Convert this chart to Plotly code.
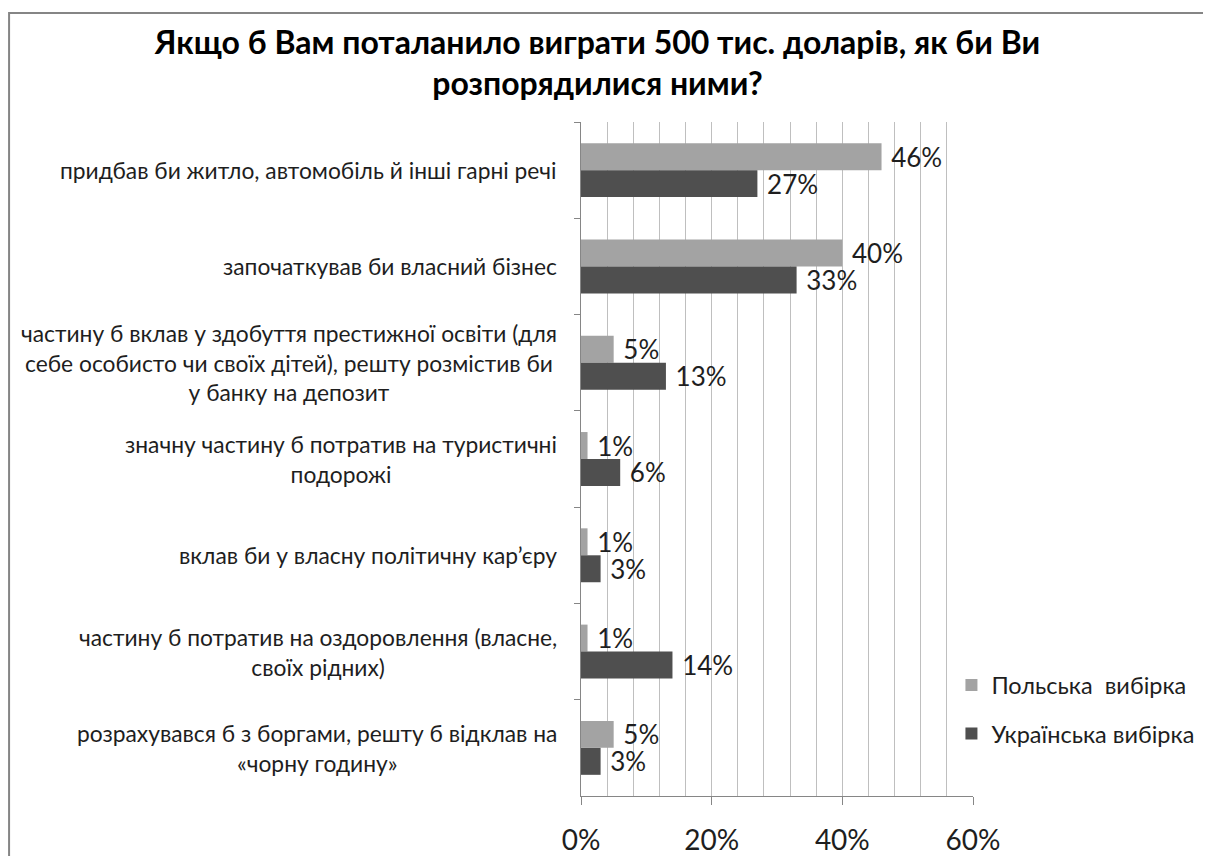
import plotly.graph_objects as go

# categories, top to bottom
categories = [
    "придбав би житло, автомобіль й інші гарні речі",
    "започаткував би власний бізнес",
    "частину б вклав у здобуття престижної освіти (для<br>себе особисто чи своїх дітей), решту розмістив би<br>у банку на депозит",
    "значну частину б потратив на туристичні<br>подорожі",
    "вклав би у власну політичну кар’єру",
    "частину б потратив на оздоровлення (власне,<br>своїх рідних)",
    "розрахувався б з боргами, решту б відклав на<br>«чорну годину»",
]
polish = [0.46, 0.40, 0.05, 0.01, 0.01, 0.01, 0.05]
ukrainian = [0.27, 0.33, 0.13, 0.06, 0.03, 0.14, 0.03]

series_names = ["Польська  вибірка", "Українська вибірка"]
x_ticks = [0, 0.2, 0.4, 0.6]
x_tick_labels = ["0%", "20%", "40%", "60%"]

FONT = "Lato, 'Open Sans', sans-serif"
TEXT_COLOR = '#1e1e1e'

fig = go.Figure()

# Polish sample (light grey)
fig.add_trace(go.Bar(
    y=categories,
    x=polish,
    orientation='h',
    name=series_names[0],
    legendgroup='pl',
    marker=dict(color='#a3a3a3', line=dict(width=0)),
    texttemplate='\u00a0%{x:.0%}',
    textposition='outside',
    constraintext='none',
    textfont=dict(size=26, color=TEXT_COLOR, family=FONT),
    cliponaxis=False,
))

# Ukrainian sample (dark grey)
fig.add_trace(go.Bar(
    y=categories,
    x=ukrainian,
    orientation='h',
    name=series_names[1],
    legendgroup='ua',
    marker=dict(color='#4f4f4f', line=dict(width=0)),
    texttemplate='\u00a0%{x:.0%}',
    textposition='outside',
    constraintext='none',
    textfont=dict(size=26, color=TEXT_COLOR, family=FONT),
    cliponaxis=False,
))

# category labels, centred multi-line blocks left of the axis
for cat in categories:
    fig.add_annotation(
        x=0, xref='paper', y=cat, yref='y',
        text=cat, showarrow=False,
        xanchor='right', yanchor='middle', align='center',
        xshift=-22,
        font=dict(size=22.8, color=TEXT_COLOR, family=FONT),
    )

# outer frame of the chart
fig.add_shape(
    type='rect', xref='paper', yref='paper',
    x0=-1.459, x1=1.8, y0=-0.2, y1=1.1617,
    line=dict(color='#858585', width=2),
    layer='below',
)

fig.update_layout(
    width=1203,
    height=848,
    barmode='group',
    bargap=0.44,
    bargroupgap=0,
    plot_bgcolor='white',
    paper_bgcolor='white',
    margin=dict(l=573, r=238, t=114, b=60, autoexpand=False),
    title=dict(
        text="<b>Якщо б Вам поталанило виграти 500 тис. доларів, як би Ви<br>розпорядилися ними?</b>",
        x=0.49, xanchor='center',
        y=0.946, yanchor='middle',
        font=dict(size=32, color='#000000', family=FONT),
    ),
    legend=dict(
        x=0.945, xanchor='left',
        y=0.197, yanchor='top',
        font=dict(size=23.5, color=TEXT_COLOR, family=FONT),
        tracegroupgap=15,
        itemwidth=30,
        bgcolor='rgba(0,0,0,0)',
    ),
    showlegend=True,
)

fig.update_xaxes(
    range=[0, 0.6],
    tickvals=x_ticks,
    ticktext=x_tick_labels,
    tickfont=dict(size=28, color=TEXT_COLOR, family=FONT),
    showgrid=True,
    gridcolor='#bfbfbf',
    gridwidth=1,
    minor=dict(dtick=0.04, showgrid=True, gridcolor='#bfbfbf', gridwidth=1),
    showline=True,
    linecolor='#868686',
    linewidth=1,
    ticks='outside',
    ticklen=8,
    tickcolor='#868686',
    ticklabelstandoff=11,
    automargin=False,
    zeroline=False,
    fixedrange=True,
)

fig.update_yaxes(
    autorange='reversed',
    showticklabels=False,
    showline=True,
    linecolor='#868686',
    linewidth=1,
    ticks='outside',
    tickson='boundaries',
    ticklen=6,
    tickcolor='#868686',
    showgrid=False,
    automargin=False,
    fixedrange=True,
)

fig.write_html("out.html")
